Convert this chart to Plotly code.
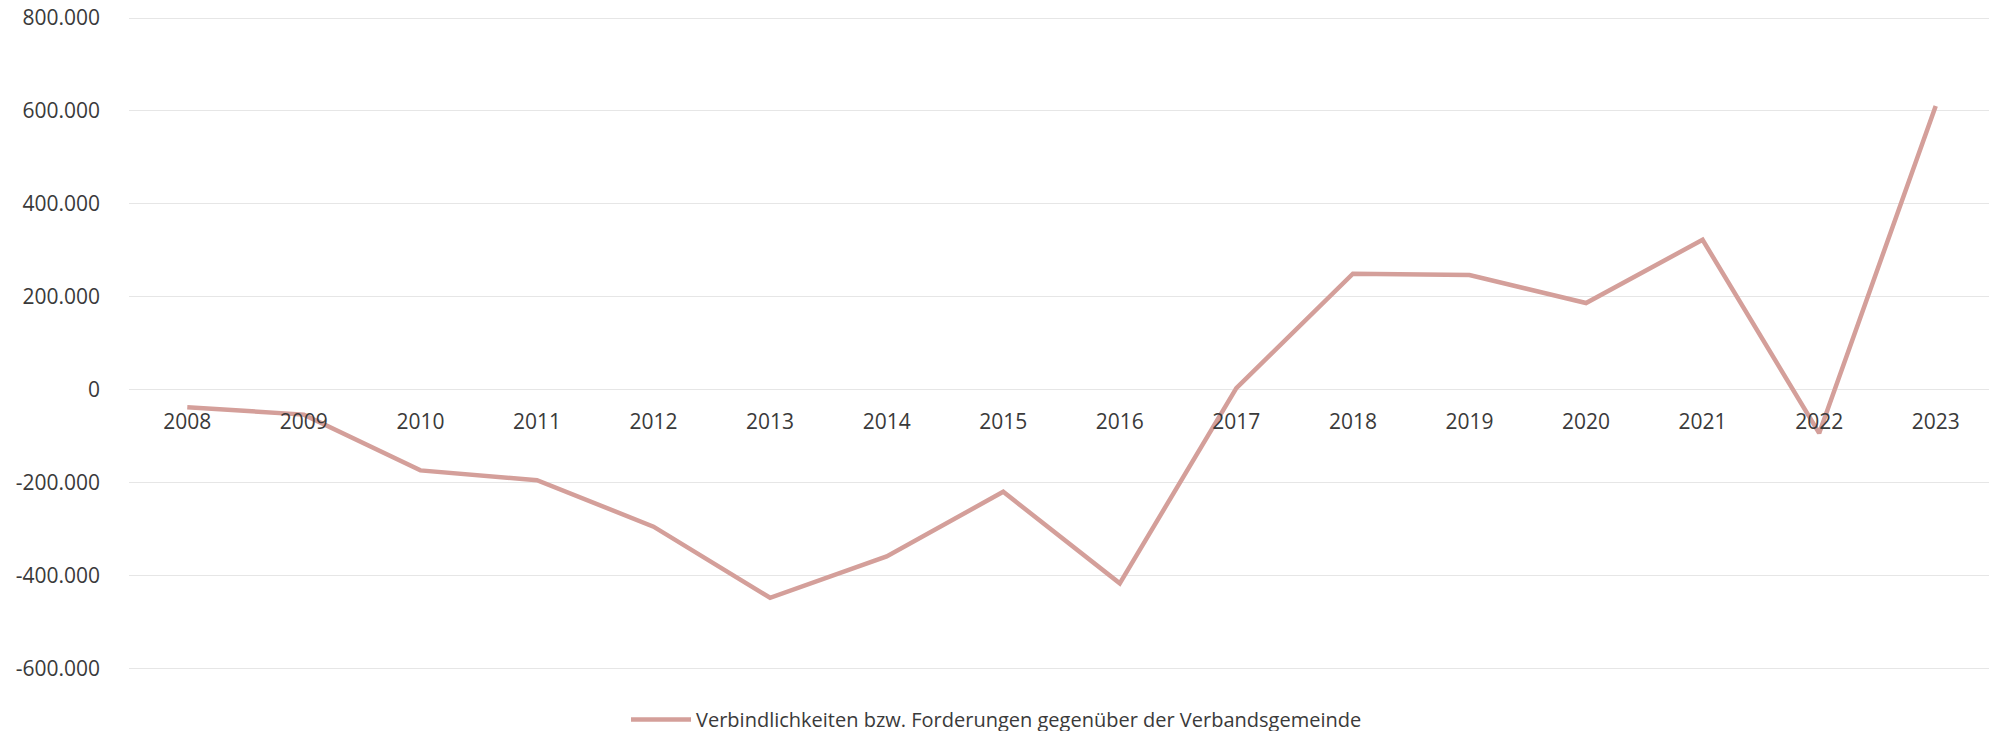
import plotly.graph_objects as go

years = ["2008", "2009", "2010", "2011", "2012", "2013", "2014", "2015",
         "2016", "2017", "2018", "2019", "2020", "2021", "2022", "2023"]
values = [-37000, -53000, -173000, -194000, -294000, -447000, -358000, -219000,
          -416000, 4000, 250000, 247000, 187000, 323000, -93000, 611000]
y_tickvals = [800000, 600000, 400000, 200000, 0, -200000, -400000, -600000]
y_ticktext = ["800.000", "600.000", "400.000", "200.000", "0",
              "-200.000", "-400.000", "-600.000"]
series_name = "Verbindlichkeiten bzw. Forderungen gegenüber der Verbandsgemeinde"

# plot area extends beyond the outer gridlines so the legend can sit inside it
y_min, y_max = -750700, 804300
font_family = "Open Sans, Noto Sans, sans-serif"

fig = go.Figure()
fig.add_trace(go.Scatter(
    x=years, y=values, mode="lines", name=series_name,
    line=dict(color="#d49f9a", width=4.5),
))

fig.update_layout(
    width=1997, height=731,
    margin=dict(l=121, r=11, t=8, b=0, autoexpand=False),
    paper_bgcolor="white", plot_bgcolor="white",
    font=dict(family=font_family, size=21, color="#3a3a3a"),
    showlegend=True,
    legend=dict(
        orientation="h", xref="container", yref="paper",
        x=0.495, xanchor="center", y=0.0, yanchor="bottom",
        itemwidth=60,
        font=dict(size=20, color="#3a3a3a"),
        bgcolor="rgba(0,0,0,0)",
    ),
    xaxis=dict(
        type="category", range=[-0.5, len(years) - 0.5],
        showgrid=False, zeroline=False, showline=False,
        anchor="free", position=(0 - y_min) / (y_max - y_min),
        ticks="", ticklabelstandoff=17,
        tickfont=dict(size=21, color="#3a3a3a"),
    ),
    yaxis=dict(
        range=[y_min, y_max],
        tickvals=y_tickvals, ticktext=y_ticktext,
        showgrid=True, gridcolor="#e6e6e6", gridwidth=1,
        zeroline=False, showline=False, ticks="",
        ticklabelstandoff=28, ticklabeloverflow="allow",
        tickfont=dict(size=21, color="#3a3a3a"),
    ),
)

fig.write_html("out.html")
